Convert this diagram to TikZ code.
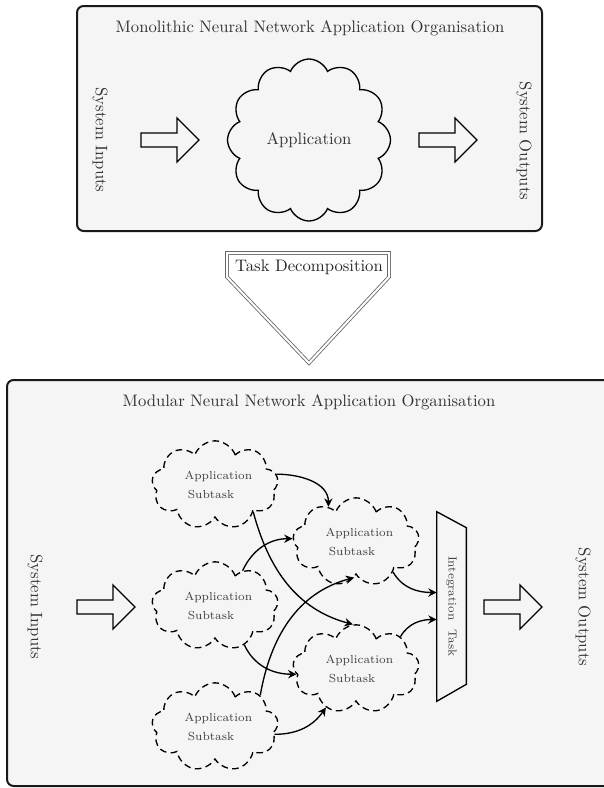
\documentclass[tikz,border=0pt]{standalone}
\usetikzlibrary{shapes.symbols,calc,arrows.meta}
\begin{document}
\begin{tikzpicture}[x=0.6pt,y=-0.6pt,
  panel/.style={draw=black!90, line width=1.2pt, rounded corners=4pt, fill=black!4},
  bigcloud/.style={cloud, draw, thick, cloud puffs=12, cloud puff arc=135,
    minimum width=97.8pt, minimum height=97.2pt, cloud ignores aspect, text=black!80},
  subcloud/.style={cloud, draw, thick, dash pattern=on 4pt off 2.6pt, cloud puffs=9, cloud puff arc=140,
    minimum width=67pt, minimum height=53pt, cloud ignores aspect,
    font=\scriptsize, align=left, text=black!75},
  sidelabel/.style={rotate=-90, text=black!80},
  flow/.style={thick, -{Stealth[length=5pt,width=5pt]}},
  fatarrow/.pic={\draw[thick] (-29,-7) -- (7,-7) -- (7,-22) -- (29,0) -- (7,22) -- (7,7) -- (-29,7) -- cycle;}
]
\useasboundingbox (0,0) rectangle (604,788);
\clip (0,0) rectangle (604,788);

% ---------- top panel ----------
\draw[panel] (77,6) rectangle (542,231);
\node[text=black!80] (toptitle) at (310,28) {Monolithic Neural Network Application Organisation};
\node[sidelabel] (tin) at (100,140) {System Inputs};
\node[sidelabel] (tout) at (524,141) {System Outputs};
\pic at (170,140) {fatarrow};
\pic at (448,140) {fatarrow};
\node[bigcloud] (app) at (309,140) {Application};

% ---------- task decomposition ----------
\node[text=black!85] (td) at (309,267) {Task Decomposition};
\draw[draw=black!60, line width=0.5pt, double=white, double distance=1.2pt]
  (227,253) -- (389,253) -- (389,277) -- (309,363) -- (227,277) -- cycle;

% ---------- bottom panel ----------
\draw[panel] (7,380) rectangle (640,786);
\node[text=black!80] (bottitle) at (309,402) {Modular Neural Network Application Organisation};
\node[sidelabel] (bin) at (35,607) {System Inputs};
\node[sidelabel] (bout) at (583,607) {System Outputs};
\pic at (106,607) {fatarrow};
\pic at (513,607) {fatarrow};

\node[subcloud] (c1) at (215,485) {\hspace{4pt}Application\\[3pt]\hspace{6pt}Subtask};
\node[subcloud] (c2) at (215,606) {\hspace{4pt}Application\\[3pt]\hspace{6pt}Subtask};
\node[subcloud] (c3) at (215,727) {\hspace{4pt}Application\\[3pt]\hspace{6pt}Subtask};
\node[subcloud] (c4) at (356,542) {\hspace{4pt}Application\\[3pt]\hspace{6pt}Subtask};
\node[subcloud] (c5) at (356,669) {\hspace{4pt}Application\\[3pt]\hspace{6pt}Subtask};

\node[minimum width=17.4pt, minimum height=113.4pt, inner sep=0pt] (integ) at (451.5,606.5) {};
\draw[thick] (integ.north west) -- ($(integ.north east)+(0,16)$) -- ($(integ.south east)+(0,-17)$) -- (integ.south west) -- cycle;
\node[rotate=-90, font=\scriptsize, text=black!75] (integlabel) at (integ.center) {Integration\ \ Task};

\draw[flow] (c1.10) to[out=0, in=90] (c4.128);
\draw[flow] (c1.-35) to[out=-75, in=165] (c5.94);
\draw[flow] (c2.52) to[out=65, in=180] (c4.177);
\draw[flow] (c2.-53) to[out=-65, in=180] (c5.185);
\draw[flow] (c3.35) to[out=80, in=195] (c4.-93);
\draw[flow] (c3.-7) to[out=0, in=-125] (c5.-128);
\draw[flow] (c4.-39) to[out=-60, in=180] ($(integ.west)+(0,-14)$);
\draw[flow] (c5.36) to[out=60, in=180] ($(integ.west)+(0,13)$);
\end{tikzpicture}
\end{document}
